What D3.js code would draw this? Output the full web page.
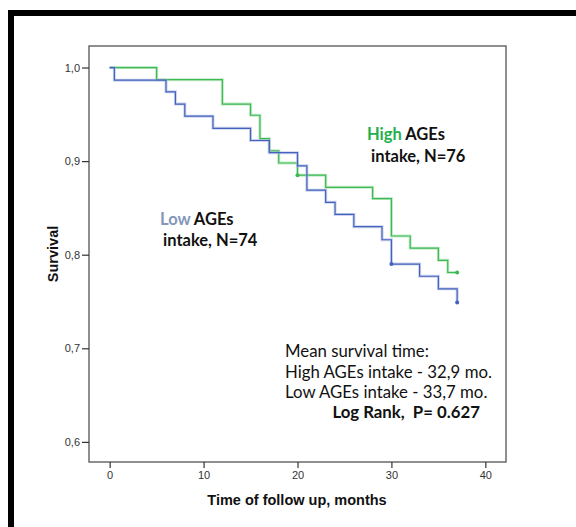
<!DOCTYPE html>
<html>
<head>
<meta charset="utf-8">
<script src="https://cdn.jsdelivr.net/npm/d3@7"></script>
<style>
  body { margin: 0; background: #fff; }
  svg { display: block; }
</style>
</head>
<body>
<div id="chart"></div>
<script>
const width = 576;
const height = 527;

// Kaplan-Meier steps
const highTimes = [0, 5, 12, 15, 16, 17, 18, 20, 23, 28, 30, 32, 35, 36, 37];
const highSurv = [1.0, 0.987, 0.961, 0.949, 0.924, 0.911, 0.898, 0.885, 0.872, 0.860, 0.820, 0.807, 0.794, 0.781, 0.781];
const highCensor = [[20, 0.885], [37, 0.781]];

const lowTimes = [0, 0.5, 6, 7, 8, 11, 15, 17, 20, 21, 23, 24, 26, 29, 30, 33, 35, 37];
const lowSurv = [1.0, 0.9865, 0.974, 0.961, 0.948, 0.935, 0.922, 0.909, 0.895, 0.869, 0.856, 0.843, 0.830, 0.816, 0.790, 0.777, 0.7635, 0.749];
const lowCensor = [[30, 0.790], [37, 0.749]];

const xTicks = [0, 10, 20, 30, 40];
const yTicks = [0.6, 0.7, 0.8, 0.9, 1.0];

const statLines = ["Mean survival time:", "High AGEs intake - 32,9 mo.", "Low AGEs intake - 33,7 mo."];

const plot = { left: 89, top: 46, right: 506, bottom: 462 };

const svg = d3.select("#chart").append("svg")
  .attr("width", width)
  .attr("height", height);

// outer black frame (runs off the right and bottom)
svg.append("rect")
  .attr("x", 11).attr("y", 13)
  .attr("width", 700).attr("height", 700)
  .attr("fill", "none")
  .attr("stroke", "#000")
  .attr("stroke-width", 6);

const x = d3.scaleLinear().domain([-2.2, 42.2]).range([plot.left, plot.right]);
const y = d3.scaleLinear().domain([0.5785, 1.023]).range([plot.bottom, plot.top]);

// plot box
svg.append("rect")
  .attr("x", plot.left).attr("y", plot.top)
  .attr("width", plot.right - plot.left).attr("height", plot.bottom - plot.top)
  .attr("fill", "none")
  .attr("stroke", "#6a6a6a")
  .attr("stroke-width", 1.5);

// axes
const yAxis = svg.append("g")
  .attr("transform", `translate(${plot.left},0)`)
  .call(d3.axisLeft(y).tickValues(yTicks).tickSize(7).tickPadding(2)
    .tickFormat(d => d3.format(".1f")(d).replace(".", ",")));

const xAxis = svg.append("g")
  .attr("transform", `translate(0,${plot.bottom})`)
  .call(d3.axisBottom(x).tickValues(xTicks).tickSize(6).tickPadding(3));

[xAxis, yAxis].forEach(g => {
  g.select(".domain").remove();
  g.selectAll(".tick line").attr("stroke", "#333").attr("stroke-width", 1.2);
  g.selectAll(".tick text")
    .attr("fill", "#333")
    .style("font-family", "'Liberation Sans', Arial, sans-serif")
    .style("font-size", "11px");
});

// axis titles
svg.append("text")
  .attr("transform", `translate(58,${254}) rotate(-90)`)
  .attr("text-anchor", "middle")
  .style("font-family", "'Liberation Sans', Arial, sans-serif")
  .style("font-size", "14.5px")
  .style("font-weight", "bold")
  .attr("fill", "#111")
  .text("Survival");

svg.append("text")
  .attr("x", 297).attr("y", 505)
  .attr("text-anchor", "middle")
  .style("font-family", "'Liberation Sans', Arial, sans-serif")
  .style("font-size", "14.5px")
  .style("font-weight", "bold")
  .attr("fill", "#111")
  .text("Time of follow up, months");

// curves
const line = d3.line()
  .x(d => x(d[0]))
  .y(d => y(d[1]))
  .curve(d3.curveStepAfter);

const groups = [
  { times: highTimes, surv: highSurv, censor: highCensor, color: "#3cb951", halo: "#9bdca6" },
  { times: lowTimes, surv: lowSurv, censor: lowCensor, color: "#4361bd", halo: "#a7b5e0" }
];

groups.forEach(g => {
  const pts = g.times.map((t, i) => [t, g.surv[i]]);
  svg.append("path")
    .attr("d", line(pts))
    .attr("fill", "none")
    .attr("stroke", g.halo)
    .attr("stroke-width", 3)
    .attr("stroke-opacity", 0.6);
  svg.append("path")
    .attr("d", line(pts))
    .attr("fill", "none")
    .attr("stroke", g.color)
    .attr("stroke-width", 1.2);
  svg.selectAll(null)
    .data(g.censor)
    .join("circle")
    .attr("cx", d => x(d[0]))
    .attr("cy", d => y(d[1]))
    .attr("r", 2)
    .attr("fill", g.color);
});

// group labels
const labelFont = "Lato, 'Open Sans', sans-serif";

const high1 = svg.append("text")
  .attr("x", 367).attr("y", 140)
  .style("font-family", labelFont).style("font-size", "16.5px").style("font-weight", "bold");
high1.append("tspan").attr("fill", "#1fb04b").text("High ");
high1.append("tspan").attr("fill", "#111").text("AGEs");

svg.append("text")
  .attr("x", 371).attr("y", 162)
  .style("font-family", labelFont).style("font-size", "16.5px").style("font-weight", "bold")
  .attr("fill", "#111")
  .text("intake, N=76");

const low1 = svg.append("text")
  .attr("x", 160).attr("y", 225)
  .style("font-family", labelFont).style("font-size", "16.5px").style("font-weight", "bold");
low1.append("tspan").attr("fill", "#8497b9").text("Low ");
low1.append("tspan").attr("fill", "#111").text("AGEs");

svg.append("text")
  .attr("x", 163).attr("y", 246)
  .style("font-family", labelFont).style("font-size", "16.5px").style("font-weight", "bold")
  .attr("fill", "#111")
  .text("intake, N=74");

// stats block
svg.selectAll("text.stat")
  .data(statLines)
  .join("text")
  .attr("class", "stat")
  .attr("x", 285)
  .attr("y", (d, i) => 357 + i * 20.5)
  .style("font-family", labelFont)
  .style("font-size", "16.8px")
  .attr("fill", "#111")
  .text(d => d);

svg.append("text")
  .attr("x", 480).attr("y", 418)
  .attr("text-anchor", "end")
  .style("font-family", labelFont)
  .style("font-size", "16.8px")
  .style("font-weight", "bold")
  .attr("fill", "#111")
  .style("white-space", "pre")
  .text("Log Rank,  P= 0.627");
</script>
</body>
</html>
